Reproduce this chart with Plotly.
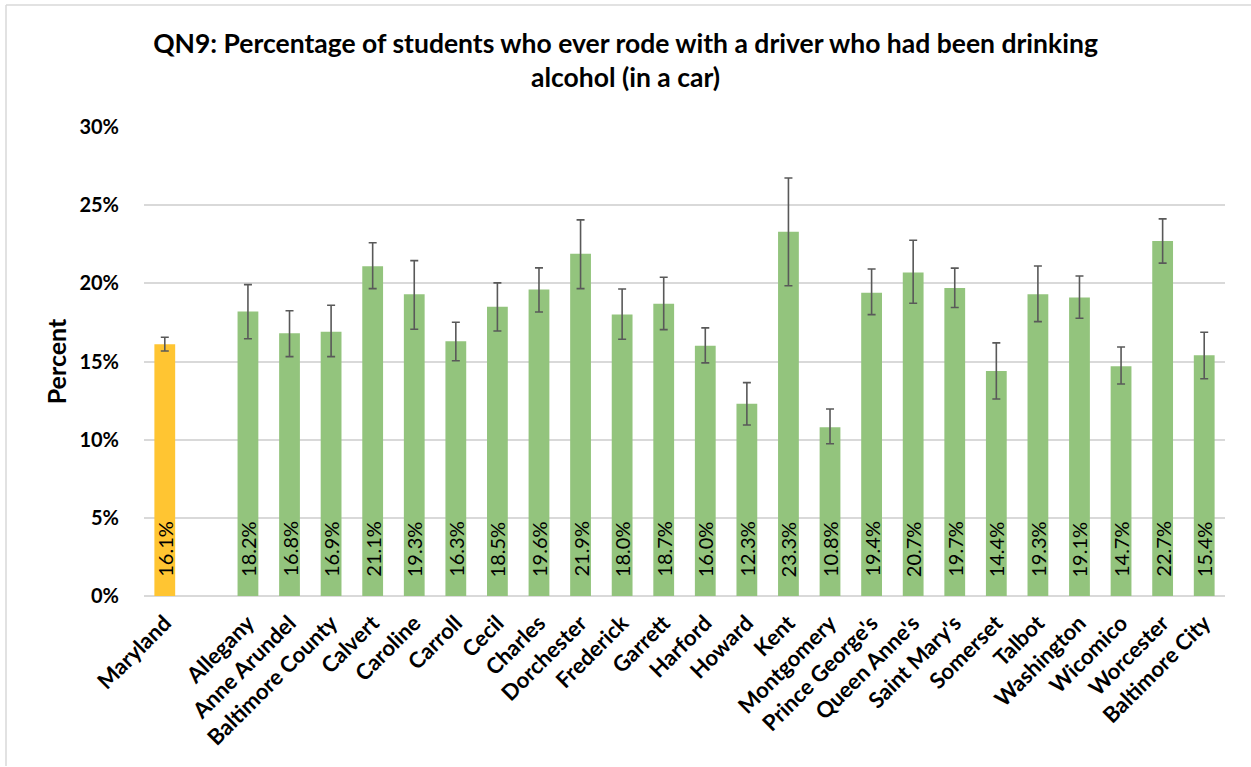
import plotly.graph_objects as go

state_name = "Maryland"
state_value = 16.1
state_ci_low = 15.67
state_ci_high = 16.55

counties = ["Allegany", "Anne Arundel", "Baltimore County", "Calvert", "Caroline",
            "Carroll", "Cecil", "Charles", "Dorchester", "Frederick", "Garrett",
            "Harford", "Howard", "Kent", "Montgomery", "Prince George's",
            "Queen Anne's", "Saint Mary's", "Somerset", "Talbot", "Washington",
            "Wicomico", "Worcester", "Baltimore City"]
county_values = [18.2, 16.8, 16.9, 21.1, 19.3, 16.3, 18.5, 19.6, 21.9, 18.0, 18.7,
                 16.0, 12.3, 23.3, 10.8, 19.4, 20.7, 19.7, 14.4, 19.3, 19.1,
                 14.7, 22.7, 15.4]
county_ci_low = [16.46, 15.31, 15.31, 19.66, 17.06, 15.05, 16.95, 18.17, 19.66, 16.42,
                 17.04, 14.91, 10.94, 19.85, 9.74, 18.0, 18.73, 18.45, 12.6, 17.55,
                 17.77, 13.56, 21.29, 13.9]
county_ci_high = [19.92, 18.25, 18.6, 22.6, 21.45, 17.51, 20.03, 20.99, 24.06, 19.64,
                  20.39, 17.15, 13.65, 26.74, 11.96, 20.92, 22.76, 20.97, 16.19, 21.11,
                  20.47, 15.93, 24.12, 16.87]

title_text = ("QN9: Percentage of students who ever rode with a driver who had been drinking"
              "<br>alcohol (in a car)")
y_title = "Percent"

gap_label = " "
categories = [state_name, gap_label] + counties

FONT = "Lato, Carlito, Calibri, sans-serif"
GREEN = "#93C47D"
GOLD = "#FFC532"
ERR = "#595959"

fig = go.Figure()

fig.add_trace(go.Bar(
    x=[state_name], y=[state_value / 100],
    marker=dict(color=GOLD, line=dict(width=0)),
    width=0.5,
    error_y=dict(type="data", symmetric=False,
                 array=[(state_ci_high - state_value) / 100],
                 arrayminus=[(state_value - state_ci_low) / 100],
                 color=ERR, thickness=1.6, width=4),
    showlegend=False, hoverinfo="x+y",
))

fig.add_trace(go.Bar(
    x=counties, y=[v / 100 for v in county_values],
    marker=dict(color=GREEN, line=dict(width=0)),
    width=0.5,
    error_y=dict(type="data", symmetric=False,
                 array=[(h - v) / 100 for h, v in zip(county_ci_high, county_values)],
                 arrayminus=[(v - l) / 100 for v, l in zip(county_values, county_ci_low)],
                 color=ERR, thickness=1.6, width=4),
    showlegend=False, hoverinfo="x+y",
))

# data labels: rotated, anchored near the bar base
for name, val in [(state_name, state_value)] + list(zip(counties, county_values)):
    fig.add_annotation(x=name, y=0, xref="x", yref="y", text=f"{val:.1f}%",
                       textangle=-90, showarrow=False, yanchor="bottom", xanchor="center",
                       yshift=17, font=dict(size=20, family=FONT, color="black"))

ML, MR, MT, MB = 144, 26, 127, 171
W, H = 1251, 767
pw = W - ML - MR
ph = H - MT - MB

fig.update_layout(
    width=W, height=H,
    margin=dict(l=ML, r=MR, t=MT, b=MB, pad=0),
    paper_bgcolor="white", plot_bgcolor="white",
    font=dict(family=FONT, color="black"),
    title=dict(text=title_text, x=0.5, xanchor="center", xref="container",
               y=1 - 53 / H, yanchor="top", yref="container",
               font=dict(size=26.5, family=FONT, color="black", weight="bold")),
    bargap=0.5,
    xaxis=dict(type="category", categoryorder="array", categoryarray=categories,
               tickangle=-45, tickfont=dict(size=22, family=FONT, weight="bold"),
               ticklabelstandoff=9,
               showgrid=False, showline=False, ticks="", range=[-0.5, len(categories) - 0.5]),
    yaxis=dict(range=[0, 0.30], dtick=0.05, tickformat=".0%",
               tickfont=dict(size=20, family=FONT, weight="bold"),
               showgrid=True, gridcolor="#D9D9D9", gridwidth=1.5,
               zeroline=True, zerolinecolor="#D9D9D9", zerolinewidth=1.5,
               ticks="outside", ticklen=20, tickcolor="rgba(0,0,0,0)",
               title=dict(text=y_title, font=dict(size=25, family=FONT, weight="bold"),
                          standoff=5)),
)

# light chart border (partially visible in the reference)
bx0 = (6 - ML) / pw
by_top = (H - MB - 5) / ph
by_bot = (H - MB - 766) / ph
fig.add_shape(type="line", xref="paper", yref="paper", x0=bx0, x1=bx0, y0=by_bot, y1=by_top,
              line=dict(color="#D9D9D9", width=1.5))
fig.add_shape(type="line", xref="paper", yref="paper", x0=bx0, x1=(W + 20 - ML) / pw,
              y0=by_top, y1=by_top, line=dict(color="#D9D9D9", width=1.5))

fig.write_html("out.html", config={"displayModeBar": False},
               post_script="document.body.style.margin='0px';")
